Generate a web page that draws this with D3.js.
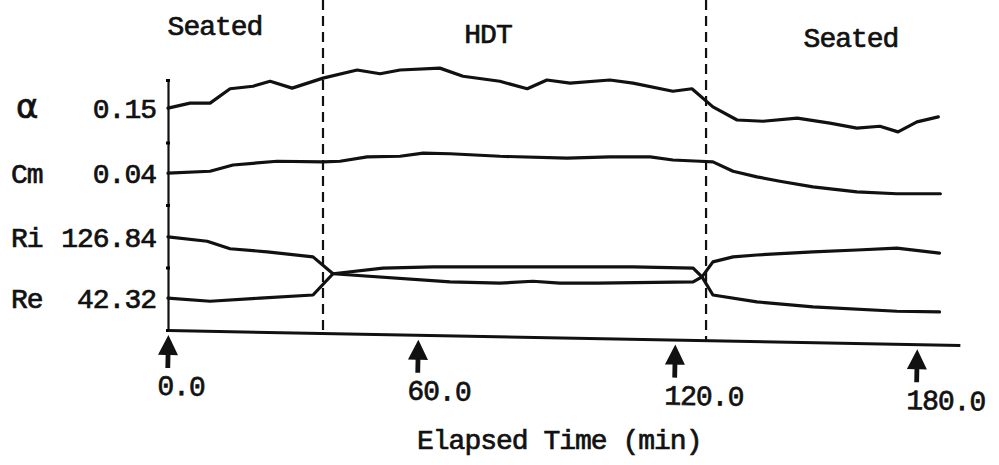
<!DOCTYPE html>
<html>
<head>
<meta charset="utf-8">
<script src="https://cdn.jsdelivr.net/npm/d3@7"></script>
<style>
  body { margin: 0; background: #fff; }
  svg { display: block; }
  text { font-family: "Liberation Mono", "Courier New", monospace; fill: #111; stroke: #111; stroke-width: 0.7px; letter-spacing: -1px; }
</style>
</head>
<body>
<div id="chart"></div>
<script>
// row labels and the starting value printed next to each trace
const seriesNames = ["α", "Cm", "Ri", "Re"];
const startValues = ["0.15", "0.04", "126.84", "42.32"];
const phaseNames = ["Seated", "HDT", "Seated"];
const phaseBounds = [37.2, 127.7]; // minutes, the dashed lines
const tickTimes = [0, 60, 120, 180];

// traces, in row units (each parameter row is one unit tall)
const alphaTime = [0, 5.3, 10.1, 14.9, 20.4, 24.5, 29.8, 37.2, 45.4, 50.9, 55.7, 65.1, 70.5, 79.1, 85.5, 90.1, 95.5, 104.8, 110.2, 119.5, 124.2, 129.4, 135.4, 141.8, 150.3, 158.4, 165.1, 170.8, 175.3, 180, 185.2];
const alphaValue = [3.55, 3.63, 3.63, 3.86, 3.90, 3.98, 3.87, 4.03, 4.16, 4.10, 4.16, 4.19, 4.06, 3.98, 3.86, 4.00, 3.95, 4.00, 3.95, 3.82, 3.86, 3.57, 3.36, 3.34, 3.39, 3.31, 3.23, 3.26, 3.17, 3.33, 3.41];

const cmTime = [0, 10.1, 15.6, 26.2, 37.2, 41.3, 47.8, 55.7, 61.2, 67.5, 79.1, 94.8, 104.8, 114.2, 119.5, 126.2, 129.4, 134.4, 140.3, 146.0, 154.2, 165.1, 175.0, 185.7];
const cmValue = [2.51, 2.54, 2.64, 2.70, 2.69, 2.70, 2.77, 2.78, 2.83, 2.82, 2.78, 2.75, 2.77, 2.77, 2.72, 2.70, 2.69, 2.54, 2.45, 2.38, 2.29, 2.21, 2.18, 2.18];

const riTime = [0, 9.4, 14.9, 23.8, 34.8, 39.6, 67.5, 79.1, 86.8, 93.1, 101.9, 124.5, 126.7, 129.4, 134.4, 140.3, 154.2, 165.1, 175.0, 185.5];
const riValue = [1.49, 1.42, 1.30, 1.25, 1.17, 0.90, 0.77, 0.75, 0.78, 0.75, 0.75, 0.77, 0.85, 1.09, 1.17, 1.20, 1.25, 1.28, 1.31, 1.23];

const reTime = [0, 10.1, 22.1, 34.8, 39.6, 51.6, 63.5, 79.1, 94.8, 110.2, 124.5, 126.7, 129.4, 140.3, 154.2, 175.0, 185.5];
const reValue = [0.51, 0.46, 0.51, 0.56, 0.90, 0.99, 1.01, 1.01, 1.01, 1.01, 0.99, 0.85, 0.56, 0.45, 0.37, 0.30, 0.29];

const width = 999, height = 465;

const svg = d3.select("#chart")
  .append("svg")
  .attr("width", width)
  .attr("height", height);

// the scan's time axis is not quite even, so the scale is piecewise
const x = d3.scaleLinear()
  .domain([0, 60, 120, 180, 190.5])
  .range([168, 418, 675, 917, 960]);

const y = d3.scaleLinear()
  .domain([0, 4])
  .range([330, 80]);

// x axis in the scan is drawn slightly downhill
const tilt = Math.atan2(15, 792);
const tiltDeg = tilt * 180 / Math.PI;
const axisY = px => y(0) + (px - x(0)) * Math.tan(tilt);

// dashed phase boundaries
svg.selectAll(".phase-line")
  .data(phaseBounds)
  .join("line")
  .attr("class", "phase-line")
  .attr("x1", d => x(d)).attr("x2", d => x(d))
  .attr("y1", 0)
  .attr("y2", d => axisY(x(d)))
  .attr("stroke", "#111")
  .attr("stroke-width", 2.2)
  .attr("stroke-dasharray", "10,6");

// phase titles
const phaseX = [215, 488, 851];
const phaseBase = [35, 43, 47];
svg.selectAll(".phase")
  .data(phaseNames)
  .join("text")
  .attr("class", "phase")
  .attr("x", (d, i) => phaseX[i])
  .attr("y", (d, i) => phaseBase[i])
  .attr("text-anchor", "middle")
  .style("font-size", "28px")
  .text(d => d);

// left axis
const yAxis = svg.append("g")
  .attr("transform", `translate(${x(0)},0)`)
  .call(d3.axisLeft(y).ticks(4).tickSizeOuter(0).tickFormat(""));
yAxis.select(".domain").attr("stroke", "#111").attr("stroke-width", 2.2);
yAxis.selectAll(".tick line").attr("x1", -2).attr("x2", 2).attr("stroke-width", 3);

// bottom axis with arrows for ticks
const xAxis = svg.append("g")
  .attr("transform", `translate(0,${y(0)}) rotate(${tiltDeg},${x(0)},0)`)
  .call(d3.axisBottom(x)
    .tickValues(tickTimes)
    .tickSize(0)
    .tickSizeOuter(0)
    .tickFormat(d3.format(".1f")));
xAxis.select(".domain").attr("stroke", "#111").attr("stroke-width", 3);
xAxis.selectAll(".tick")
  .insert("path", "text")
  .attr("d", "M0,5 L-10,25 L-2.4,25 L-2.4,38 L2.4,38 L2.4,25 L10,25 Z")
  .attr("fill", "#111");
xAxis.selectAll(".tick text")
  .attr("x", -10)
  .attr("y", 65)
  .attr("dy", 0)
  .attr("text-anchor", "start")
  .style("font-size", "28px");
xAxis.attr("font-family", null).attr("font-size", null);

svg.append("text")
  .attr("x", 417)
  .attr("y", 449)
  .style("font-size", "28px")
  .text("Elapsed Time (min)");

// traces
const series = [
  { time: alphaTime, value: alphaValue },
  { time: cmTime, value: cmValue },
  { time: riTime, value: riValue },
  { time: reTime, value: reValue }
];

const line = d3.line()
  .x(d => x(d[0]))
  .y(d => y(d[1]));

svg.append("g")
  .selectAll("path")
  .data(series)
  .join("path")
  .attr("d", d => line(d3.zip(d.time, d.value)))
  .attr("fill", "none")
  .attr("stroke", "#111")
  .attr("stroke-width", 3.2)
  .attr("stroke-linejoin", "round")
  .attr("stroke-linecap", "round");

// row labels, placed at each trace's starting level
const rows = svg.append("g")
  .selectAll("g")
  .data(series)
  .join("g")
  .attr("transform", d => `translate(0,${y(d.value[0])})`);

rows.append("text")
  .attr("x", (d, i) => i === 0 ? 16 : 11)
  .attr("dy", (d, i) => i === 0 ? "0.3em" : "0.36em")
  .style("font-size", (d, i) => i === 0 ? "34px" : "28px")
  .style("font-family", (d, i) => i === 0 ? "'DejaVu Sans', sans-serif" : null)
  .text((d, i) => seriesNames[i]);

rows.append("text")
  .attr("x", 156)
  .attr("dy", "0.36em")
  .attr("text-anchor", "end")
  .style("font-size", "28px")
  .text((d, i) => startValues[i]);
</script>
</body>
</html>
